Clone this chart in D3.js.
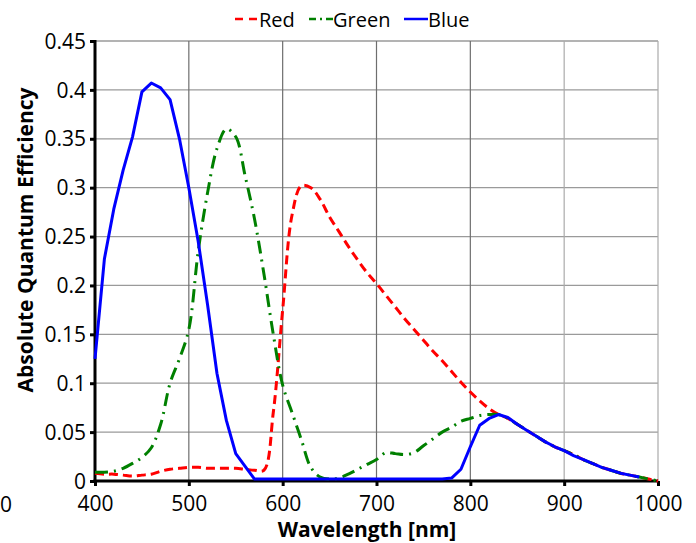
<!DOCTYPE html>
<html>
<head>
<meta charset="utf-8">
<script src="https://cdn.jsdelivr.net/npm/d3@7"></script>
<style>
  body { margin: 0; background: #fff; }
  svg { display: block; }
  text { font-family: "Open Sans", sans-serif; fill: #000; }
</style>
</head>
<body>
<div id="chart"></div>
<script>
// wavelength samples (nm) and QE per channel
var redNm = [400, 410, 420, 430, 440, 450, 460, 470, 480, 490, 500, 510, 520, 530, 540, 550, 560, 570, 580,
    590, 600, 610, 620, 630, 640, 650, 660, 670, 680, 690, 700, 710, 720, 730, 740, 750, 760, 770, 780, 790,
    800, 810, 820, 830, 840, 850, 860, 870, 880, 890, 900, 910, 920, 930, 940, 950, 960, 970, 980, 990, 1000];
var redQE = [0.008, 0.007, 0.007, 0.006, 0.005, 0.006, 0.007, 0.010, 0.012, 0.013, 0.014, 0.014, 0.013, 0.013, 0.013, 0.013, 0.012, 0.011, 0.011,
    0.070, 0.175, 0.272, 0.302, 0.300, 0.288, 0.270, 0.255, 0.240, 0.226, 0.213, 0.202, 0.190, 0.178, 0.166, 0.155, 0.144, 0.133, 0.123, 0.112, 0.101,
    0.091, 0.082, 0.074, 0.068, 0.064, 0.058, 0.052, 0.046, 0.040, 0.035, 0.031, 0.027, 0.022, 0.018, 0.014, 0.011, 0.008, 0.006, 0.004, 0.002, 0.000];

var greenNm = [400, 410, 420, 430, 440, 450, 460, 470, 480, 490, 500, 510, 520, 530, 540, 550, 560, 570, 580,
    590, 600, 610, 620, 630, 640, 650, 660, 670, 680, 690, 700, 710, 720, 730, 740, 750, 760, 770, 780, 790,
    800, 810, 820, 830, 840, 850, 860, 870, 880, 890, 900, 910, 920, 930, 940, 950, 960, 970, 980, 990, 1000];
var greenQE = [0.009, 0.009, 0.010, 0.013, 0.018, 0.024, 0.034, 0.058, 0.100, 0.125, 0.155, 0.235, 0.295, 0.340, 0.360, 0.352, 0.312, 0.268, 0.212,
    0.150, 0.098, 0.070, 0.042, 0.014, 0.004, 0.002, 0.003, 0.007, 0.012, 0.017, 0.022, 0.029, 0.028, 0.027, 0.029, 0.036, 0.043, 0.050, 0.055, 0.061,
    0.064, 0.067, 0.068, 0.068, 0.064, 0.058, 0.052, 0.046, 0.040, 0.035, 0.031, 0.027, 0.022, 0.018, 0.014, 0.011, 0.008, 0.006, 0.004, 0.002, 0.000];

var blueNm = [400, 410, 420, 430, 440, 450, 460, 470, 480, 490, 500, 510, 520, 530, 540, 550, 560, 570, 580,
    590, 600, 610, 620, 630, 640, 650, 660, 670, 680, 690, 700, 710, 720, 730, 740, 750, 760, 770, 780, 790,
    800, 810, 820, 830, 840, 850, 860, 870, 880, 890, 900, 910, 920, 930, 940, 950, 960, 970, 980];
var blueQE = [0.125, 0.227, 0.278, 0.318, 0.352, 0.398, 0.407, 0.402, 0.390, 0.350, 0.300, 0.245, 0.180, 0.110, 0.062, 0.028, 0.015, 0.002, 0.002,
    0.002, 0.002, 0.002, 0.002, 0.002, 0.002, 0.002, 0.002, 0.002, 0.002, 0.002, 0.002, 0.002, 0.002, 0.002, 0.002, 0.002, 0.002, 0.002, 0.003, 0.012,
    0.035, 0.057, 0.064, 0.068, 0.065, 0.058, 0.052, 0.046, 0.040, 0.035, 0.031, 0.026, 0.022, 0.018, 0.014, 0.011, 0.008, 0.006, 0.004];

var xTicks = [400, 500, 600, 700, 800, 900, 1000];
var yTicks = [0, 0.05, 0.1, 0.15, 0.2, 0.25, 0.3, 0.35, 0.4, 0.45];

var width = 696,
    height = 543;

var svg = d3.select("#chart").append("svg")
    .attr("width", width)
    .attr("height", height);

var x = d3.scaleLinear().domain([400, 1000]).range([95, 658]);
var y = d3.scaleLinear().domain([0, 0.45]).range([481, 41]);

// grid lines
svg.append("g")
    .selectAll("line")
    .data(yTicks.slice(1))
    .enter().append("line")
    .attr("x1", x(400)).attr("x2", x(1000))
    .attr("y1", function (d) { return y(d); })
    .attr("y2", function (d) { return y(d); })
    .style("stroke", "#9a9a9a")
    .style("stroke-width", 1.3);

svg.append("g")
    .selectAll("line")
    .data(xTicks.slice(1))
    .enter().append("line")
    .attr("x1", function (d) { return x(d); })
    .attr("x2", function (d) { return x(d); })
    .attr("y1", y(0.45)).attr("y2", y(0))
    .style("stroke", function (d) { return d > 800 ? "#aaaaaa" : "#6e6e6e"; })
    .style("stroke-width", 1.2);

// axes
var yAxis = d3.axisLeft(y).tickValues(yTicks).tickSize(5).tickPadding(4)
    .tickFormat(function (d) { return String(+d.toFixed(2)); });
var gy = svg.append("g").attr("transform", "translate(" + x(400) + ",0)").call(yAxis);
gy.select(".domain").remove();
gy.selectAll("line").style("stroke", "#000").style("stroke-width", 3);
gy.selectAll("text").style("font-size", "21px").style("font-family", "'Open Sans', sans-serif")
    .attr("dy", "0.34em");

var xAxis = d3.axisBottom(x).tickValues(xTicks).tickSize(5).tickPadding(10)
    .tickFormat(d3.format("d"));
var gx = svg.append("g").attr("transform", "translate(0," + y(0) + ")").call(xAxis);
gx.select(".domain").remove();
gx.selectAll("line").style("stroke", "#000").style("stroke-width", 3);
gx.selectAll("text").style("font-size", "21px").style("font-family", "'Open Sans', sans-serif");

svg.append("line")
    .attr("x1", x(400)).attr("x2", x(400))
    .attr("y1", y(0.45) - 1).attr("y2", y(0) + 1.5)
    .style("stroke", "#000").style("stroke-width", 3);
svg.append("line")
    .attr("x1", x(400) - 1.5).attr("x2", x(1000))
    .attr("y1", y(0)).attr("y2", y(0))
    .style("stroke", "#000").style("stroke-width", 3);

// stray clipped label at the left edge
svg.append("text")
    .attr("x", 6).attr("y", 512)
    .attr("text-anchor", "middle")
    .style("font-size", "21px")
    .text("0");

// series
var series = [
    {name: "Red", nm: redNm, qe: redQE, color: "#ff0000", dash: "9,5", curve: d3.curveCatmullRom},
    {name: "Green", nm: greenNm, qe: greenQE, color: "#008000", dash: "13,6,2,6", curve: d3.curveCatmullRom},
    {name: "Blue", nm: blueNm, qe: blueQE, color: "#0000ff", dash: null, curve: d3.curveLinear}
];

series.forEach(function (s) {
    var pts = s.nm.map(function (d, i) { return [d, s.qe[i]]; });
    var line = d3.line()
        .x(function (d) { return x(d[0]); })
        .y(function (d) { return y(d[1]); })
        .curve(s.curve);
    svg.append("path")
        .datum(pts)
        .attr("d", line)
        .style("fill", "none")
        .style("stroke", s.color)
        .style("stroke-width", 3)
        .style("stroke-dasharray", s.dash)
        .style("stroke-linejoin", "round");
});

// legend
var legendX = [235, 309, 404];
var legend = svg.append("g");
series.forEach(function (s, i) {
    legend.append("line")
        .attr("x1", legendX[i]).attr("x2", legendX[i] + 24)
        .attr("y1", 19).attr("y2", 19)
        .style("stroke", s.color)
        .style("stroke-width", 2.5)
        .style("stroke-dasharray", s.name === "Red" ? "8,6" : (s.name === "Green" ? "7,4,2,4" : null));
    legend.append("text")
        .attr("x", legendX[i] + 24).attr("y", 27)
        .style("font-size", "20px")
        .text(s.name);
});

// axis titles
svg.append("text")
    .attr("x", 367).attr("y", 537)
    .attr("text-anchor", "middle")
    .style("font-size", "21px")
    .style("font-weight", "bold")
    .text("Wavelength [nm]");

svg.append("text")
    .attr("transform", "translate(33,240) rotate(-90)")
    .attr("text-anchor", "middle")
    .style("font-size", "21px")
    .style("font-weight", "bold")
    .text("Absolute Quantum Efficiency");
</script>
</body>
</html>
